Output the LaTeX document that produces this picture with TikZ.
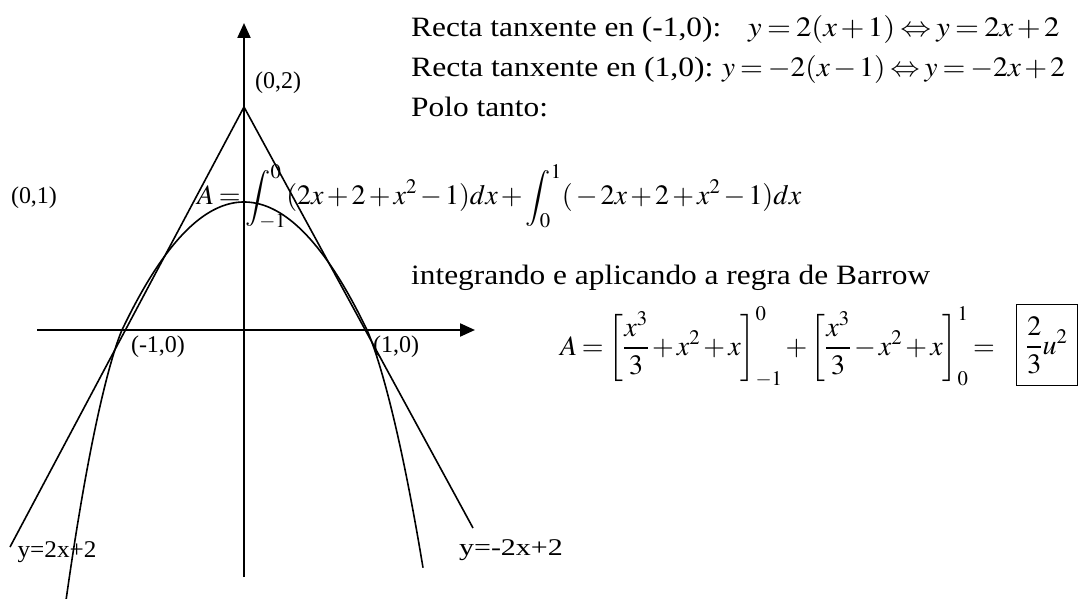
\documentclass[tikz,border=0pt]{standalone}
\usepackage{amsmath}
\usepackage{mathptmx}
\usepackage{fontspec}
\setmainfont{Liberation Serif}
\usetikzlibrary{arrows.meta}
\newcommand{\sx}[2][1.1]{\scalebox{#1}[1]{#2}}
\newcommand{\bstrut}{\vrule height 40pt depth 29pt width 0pt}
\thickmuskip=3mu
\medmuskip=2mu
\tikzset{
  axis/.style={line width=2.2pt, -{Triangle[length=15pt,width=13pt]}},
  curve/.style={line width=1.6pt},
  lbl/.style={inner sep=0pt, font=\fontsize{24}{28}\selectfont},
  txt/.style={inner sep=0pt, anchor=base west, font=\fontsize{28}{34}\selectfont},
  resbox/.style={draw, line width=1.4pt, inner sep=2pt, minimum width=61pt,
    minimum height=81pt, font=\fontsize{28}{34}\selectfont},
}
\begin{document}
\begin{tikzpicture}[x=1pt,y=-1pt]
\useasboundingbox (0,0) rectangle (1080,599);
\fill[white] (0,0) rectangle (1080,599);
% axes
\coordinate (xs) at (37,330);
\coordinate (xe) at (475,330);
\coordinate (ys) at (244,577);
\coordinate (ye) at (244,23);
\coordinate (apex) at (244,107);
\coordinate (Lend) at (10,547);
\coordinate (Rend) at (473,528);
\draw[axis] (xs) -- (xe);
\draw[axis] (ys) -- (ye);
% tangent lines
\draw[curve] (apex) -- (Lend);
\draw[curve] (apex) -- (Rend);
% parabola (left and right branches)
\draw[curve] plot[domain=-178:0, samples=90, smooth]
  ({244+\x}, {330-128*(1-(\x/122)^2)+105*max(0,(\x/122)^2-1)*sqrt(max(0,(\x/122)^2-1))});
\draw[curve] plot[domain=0:179, samples=90, smooth]
  ({244+\x}, {330-128*(1-(\x/123)^2)+80*max(0,(\x/123)^2-1)*sqrt(max(0,(\x/123)^2-1))});
% point labels
\node[lbl] (p02) at (278,83) {(0,2)};
\node[lbl] (p01) at (34,198) {(0,1)};
\node[lbl] (pm10) at (158,347) {(-1,0)};
\node[lbl] (p10) at (396,347) {(1,0)};
\node[lbl] (eqL) at (57,552) {\sx[1.05]{y=2x+2}};
\node[lbl] (eqR) at (511,550) {\sx[1.25]{y=-2x+2}};
% text
\node[txt] (t1) at (411,37) {\sx[1.12]{Recta tanxente en (-1,0):}};
\node[txt] (m1) at (748,37) {\sx{$y=2(x+1)\Leftrightarrow y=2x+2$}};
\node[txt] (t2) at (411,77) {\sx[1.13]{Recta tanxente en (1,0):}};
\node[txt] (m2) at (722,77) {\sx[1.05]{$y=-2(x-1)\Leftrightarrow y=-2x+2$}};
\node[txt] (t3) at (411,117) {\sx[1.12]{Polo tanto:}};
\node[txt] (f1) at (197,205) {\sx[1.0]{$\displaystyle A=\int_{-1}^{0}(2x+2+x^2-1)dx+\int_{0}^{1}({}-2x+2+x^2-1)dx$}};
\node[txt] (t4) at (411,284) {\sx[1.12]{integrando e aplicando a regra de Barrow}};
\node[resbox, anchor=east] (bx) at (1078,345) {$\dfrac{2}{3}u^2$};
\node[txt] (f2) at (560,355) {\sx[1.0]{$A=\left[\bstrut\dfrac{x^3}{3}+x^2+x\right]_{-1}^{0}+\left[\bstrut\dfrac{x^3}{3}-x^2+x\right]_{0}^{1}=$}};
\end{tikzpicture}
\end{document}
